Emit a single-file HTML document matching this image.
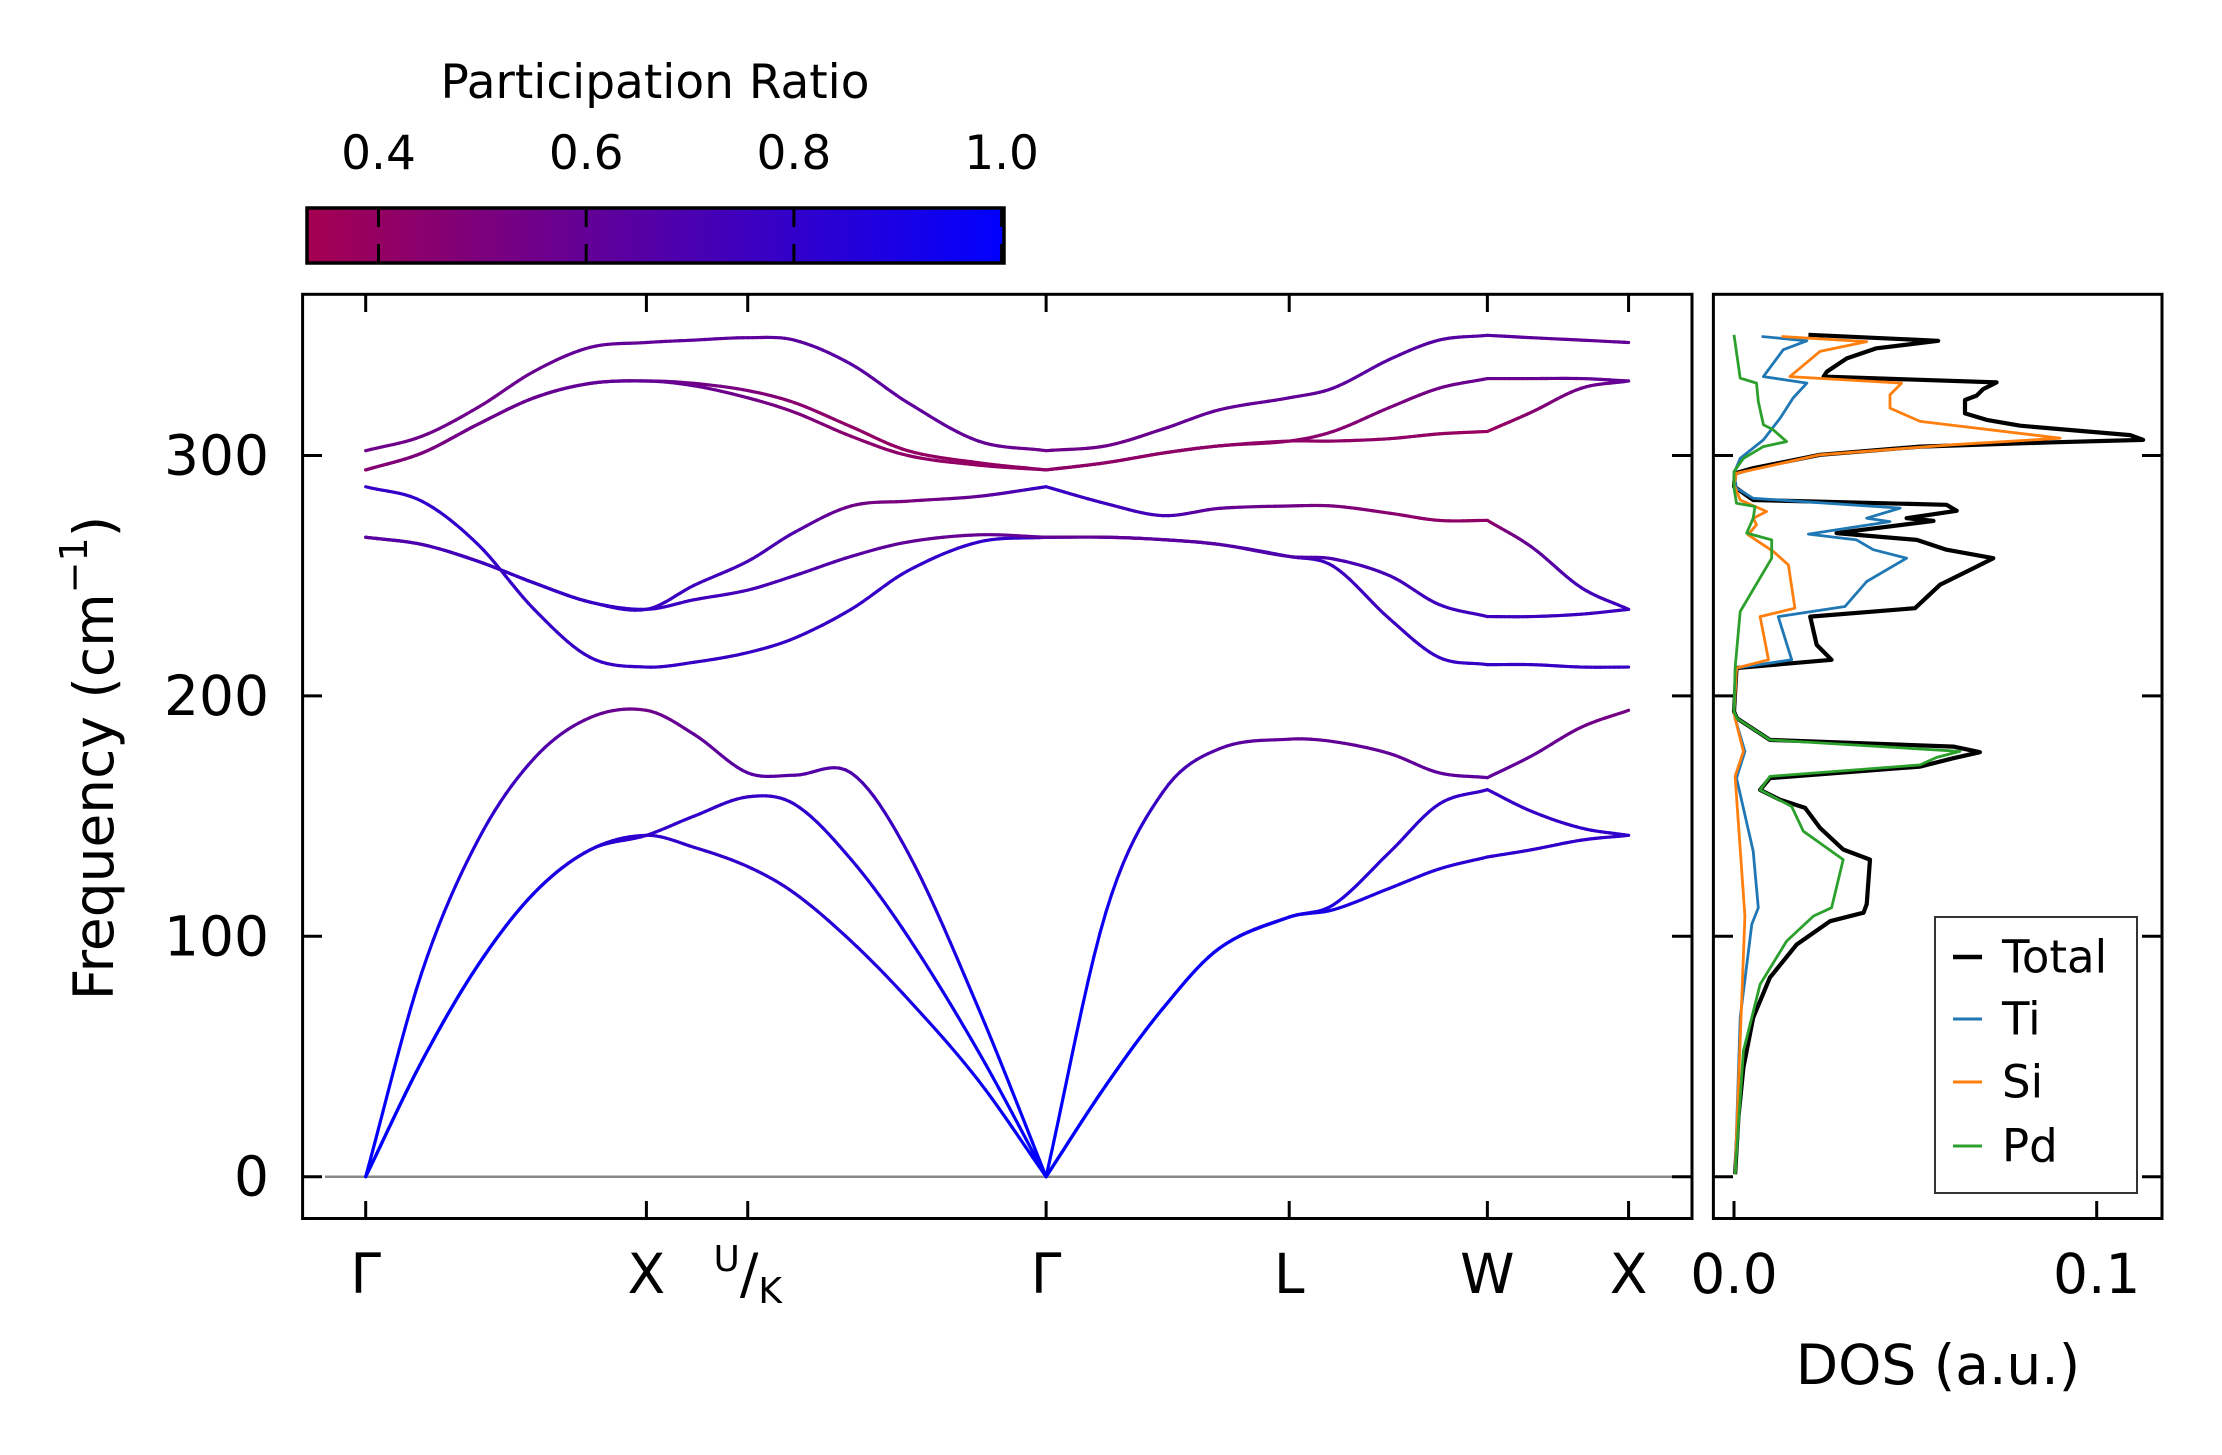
<!DOCTYPE html>
<html><head><meta charset="utf-8"><style>
html,body{margin:0;padding:0;background:#fff}
svg{display:block}
text{font-family:"DejaVu Sans","Liberation Sans",sans-serif;fill:#000}
</style></head><body>
<svg id="fig" xmlns="http://www.w3.org/2000/svg" width="2222" height="1455" viewBox="0 0 2222 1455">
<defs>
<linearGradient id="cbgrad" x1="0" x2="1" y1="0" y2="0">
<stop offset="0" stop-color="rgb(165,0,80)"/><stop offset="1" stop-color="rgb(0,0,255)"/>
</linearGradient>
</defs>
<g id="colorbar">
<text x="655" y="98" font-size="47" text-anchor="middle">Participation Ratio</text>
<rect x="307" y="208" width="697" height="55" fill="url(#cbgrad)" stroke="#000" stroke-width="3.5"/>
<g id="cbticks"></g>
</g>
<g id="band-panel">
<g id="bands"></g>
<rect x="302.6" y="294.3" width="1389.4" height="924.2" fill="none" stroke="#000" stroke-width="3"/>
<g id="bandticks"></g>
<text transform="translate(94,758) rotate(-90)" font-size="55" text-anchor="middle" dominant-baseline="central">Frequency (cm<tspan font-size="38" dy="-20">−1</tspan><tspan dy="20">)</tspan></text>
</g>
<g id="dos-panel">
<g id="dos"></g>
<rect x="1713.4" y="294.3" width="448.6" height="924.2" fill="none" stroke="#000" stroke-width="3"/>
<g id="dosticks"></g>
<text x="1938" y="1384" font-size="55" text-anchor="middle">DOS (a.u.)</text>
<g>
<rect x="1935" y="917" width="202" height="276" fill="#fff" stroke="#333" stroke-width="2"/>
<g id="legend"></g>
</g>
</g>
</svg>
<script>
// ---------- data ----------
const kLabels = ["Γ","X","U/K","Γ","L","W","X"];
const kTickPos = [0, 1, 1.361, 2.424, 3.29, 3.996, 4.499];
const kSamples = [0,0.2,0.4,0.6,0.8,1, 1.170,1.361, 1.527,1.729,1.931,2.183,2.424, 2.637,2.840,3.041,3.29, 3.446,3.648,3.824,3.996, 4.153,4.331,4.499];
const segBreaks = [0,12,20,23];
const band1 = [0,48,88,118,136,142, 137,129, 118,98,74,40,0, 38,70,95,108, 111,120,128,133, 136,140,142];
const band2 = [0,48,88,118,136,142, 150,158, 155,132,100,52,0, 38,70,95,108, 113,135,155,161, 152,145,142];
const band3 = [0,85,140,174,191,194, 184,168, 167,168,135,70,0, 110,160,178,182, 181,176,168,166, 175,187,194];
const band4 = [287,281,263,236,216,212, 214,218, 224,236,252,264,266, 266,265,263,258, 254,232,216,213, 213,212,212];
const band5 = [266,263,256,247,239,236, 240,244, 250,258,264,267,266, 266,265,263,258, 257,250,238,233, 233,234,236];
const band6 = [266,263,256,247,239,236, 246,256, 268,279,281,283,287, 280,275,278,279, 279,276,273,273, 262,245,236];
const band7 = [294,301,313,324,330,331, 329,324, 318,308,300,296,294, 297,301,304,306, 306,307,309,310, 318,328,331];
const band8 = [294,301,313,324,330,331, 330,327, 322,312,302,297,294, 297,301,304,306, 310,320,328,332, 332,332,331];
const band9 = [302,308,320,335,345,347, 348,349, 348,338,322,306,302, 304,311,319,324, 328,340,348,350, 349,348,347];
const pr1 = [1,1,.98,.92,.85,.8, .8,.8, .82,.86,.9,.96,1, 1,.98,.95,.92, .9,.87,.85,.82, .8,.8,.8];
const pr2 = [1,1,.98,.92,.85,.8, .8,.78, .8,.85,.9,.96,1, 1,.98,.95,.92, .88,.82,.8,.78, .78,.8,.8];
const pr3 = [1,.95,.85,.7,.6,.55, .6,.65, .65,.68,.8,.95,1, .95,.75,.65,.6, .6,.6,.62,.62, .6,.55,.52];
const pr4 = [.78,.8,.8,.78,.78,.78, .78,.78, .78,.78,.8,.8,.8, .8,.78,.78,.75, .75,.75,.78,.78, .78,.78,.78];
const pr5 = [.62,.7,.75,.78,.78,.78, .75,.72, .7,.65,.6,.58,.6, .6,.62,.65,.68, .7,.72,.75,.75, .75,.76,.76];
const pr6 = [.62,.7,.75,.78,.78,.78, .75,.72, .68,.55,.5,.6,.78, .75,.72,.6,.55, .5,.45,.42,.42, .6,.72,.76];
const pr7 = [.45,.5,.55,.58,.6,.6, .58,.55, .5,.45,.42,.4,.42, .42,.42,.42,.42, .42,.42,.4,.38, .45,.55,.6];
const pr8 = [.45,.5,.55,.58,.6,.6, .55,.5, .45,.42,.4,.4,.42, .42,.42,.42,.42, .45,.5,.55,.58, .58,.6,.6];
const pr9 = [.55,.55,.55,.58,.6,.6, .62,.62, .63,.65,.62,.6,.55, .55,.58,.6,.6, .62,.65,.65,.65, .62,.6,.6];
const freqTicks = [0,100,200,300];
const cbTicks = [0.4,0.6,0.8,1.0];
const dosTicks = [0.0,0.1];
const dosTickLabels = ["0.0","0.1"];

const totalF = [350.2,347.7,344.6,340.4,334.9,332.8,330.4,327.6,324.9,323.1,317.5,314.8,312.4,310.6,308.5,306.5,305.5,303.7,300.3,294.7,292.6,287.1,281.5,279.5,277.0,273.9,272.8,267.7,264.9,260.8,257.3,253.1,246.2,236.5,233.0,221.2,215.0,211.6,193.5,190.7,181.7,178.9,176.6,174.1,170.6,165.8,160.9,156.8,153.4,145.1,136.1,131.9,113.3,109.8,106.3,96.6,82.8,66.2,45.4,24.6,1.0];
const totalV = [0.0205,0.0563,0.0393,0.0311,0.0256,0.0247,0.0724,0.0687,0.0669,0.0637,0.0637,0.0697,0.0789,0.0926,0.1092,0.1128,0.0880,0.0513,0.0237,0.0053,0.0003,0,0.0053,0.0586,0.0614,0.0476,0.055,0.0283,0.0504,0.0586,0.0715,0.066,0.0568,0.0499,0.0210,0.0228,0.0269,0.0007,0,0.0008,0.0099,0.0605,0.0678,0.0605,0.0513,0.0099,0.0072,0.0127,0.0196,0.0237,0.0301,0.0375,0.0366,0.0357,0.0265,0.0173,0.0099,0.0053,0.0026,0.0012,0.0003];
const tiF = [349.5,347.7,344.0,332.8,330.1,323.9,315.5,306.5,298.8,292.6,286.4,282.2,278.1,273.9,272.5,267.3,264.9,260.8,257.3,247.6,237.2,233.0,215.0,211.6,193.5,190.7,176.9,165.8,135.4,111.9,105.0,66.2,1.0];
const tiV = [0.0076,0.0201,0.0136,0.0081,0.0201,0.0163,0.0127,0.0081,0.0017,0,0.0007,0.0053,0.0458,0.0366,0.0430,0.0205,0.0338,0.0384,0.0476,0.0366,0.0306,0.0122,0.0159,0.0007,0,0.0003,0.0030,0.0007,0.0053,0.0067,0.0049,0.0017,0.0003];
const siF = [349.5,347.4,343.3,332.8,330.1,325.3,319.7,314.2,307.2,304.5,300.3,292.6,287.8,281.5,276.7,273.9,271.2,267.0,260.1,254.5,236.5,233.0,215.0,211.6,193.5,190.7,176.9,166.5,108.4,1.0];
const siV = [0.0131,0.0366,0.0237,0.0154,0.0462,0.0430,0.0430,0.0513,0.0899,0.0605,0.0237,0.0007,0,0.0017,0.0090,0.0053,0.0062,0.0039,0.0108,0.0150,0.0168,0.0072,0.0095,0.0007,0,0.0003,0.0026,0.0003,0.0030,0.0003];
const pdF = [350.2,332.2,330.1,322.5,312.8,310.7,305.8,303.7,298.8,293.3,286.4,280.1,278.8,273.9,267.7,264.9,257.3,235.1,211.6,193.5,190.7,181.7,176.9,174.4,171.3,166.5,160.9,154.0,143.7,131.9,111.9,108.4,98.0,80.0,52.3,1.0];
const pdV = [0,0.0017,0.0062,0.0067,0.0081,0.0108,0.0145,0.0081,0.0026,0,0,0.0007,0.0058,0.0053,0.0035,0.0104,0.0104,0.0017,0.0003,0,0.0008,0.0099,0.0623,0.0559,0.0513,0.0099,0.0072,0.0159,0.0191,0.0301,0.0269,0.0219,0.0145,0.0072,0.0026,0.0003];

// ---------- scales ----------
const NS="http://www.w3.org/2000/svg";
const yF = f => 1176.7 - f*2.404;
const xK = k => 365.7 + k*280.7;
const xD = v => 1734 + v*3627;
const xCB = p => 378.5 + (p-0.4)*1038.5;
const PRMIN = 0.331;
function prColor(p){let t=(p-PRMIN)/(1-PRMIN);t=Math.max(0,Math.min(1,t));
  return `rgb(${Math.round(165*(1-t))},0,${Math.round(80+175*t)})`;}
function mk(tag,attrs,parent){const e=document.createElementNS(NS,tag);for(const a in attrs)e.setAttribute(a,attrs[a]);parent.appendChild(e);return e;}

// colorbar ticks
const cbg=document.getElementById('cbticks');
cbTicks.forEach((p,i)=>{
  const x=xCB(p);
  const l1=mk('line',{x1:x,x2:x,y1:208,y2:227,stroke:'#000','stroke-width':3},cbg);
  
  
  const l2=mk('line',{x1:x,x2:x,y1:244,y2:263,stroke:'#000','stroke-width':3},cbg);
  
  
  const t=mk('text',{x:x,y:169,'font-size':47,'text-anchor':'middle'},cbg);
  t.textContent=p.toFixed(1);
  
  
});

// band panel ticks
const bt=document.getElementById('bandticks');
const zl=mk('line',{x1:325,x2:1692,y1:yF(0),y2:yF(0),stroke:'#888','stroke-width':2.5},document.getElementById('bands'));


freqTicks.forEach(f=>{
  const y=yF(f);
  const a=mk('line',{x1:302.6,x2:322,y1:y,y2:y,stroke:'#000','stroke-width':3},bt);
  
  
  const b=mk('line',{x1:1672,x2:1692,y1:y,y2:y,stroke:'#000','stroke-width':3},bt);
  
  
  const t=mk('text',{x:269,y:y,'font-size':55,'text-anchor':'end','dominant-baseline':'central'},bt);
  t.textContent=String(f);
  
  
  const c=mk('line',{x1:1713.4,x2:1733,y1:y,y2:y,stroke:'#000','stroke-width':3},document.getElementById('dosticks'));
  
  
  const d=mk('line',{x1:2142,x2:2162,y1:y,y2:y,stroke:'#000','stroke-width':3},document.getElementById('dosticks'));
  
  
});
kTickPos.forEach((k,i)=>{
  const x=xK(k);
  const a=mk('line',{x1:x,x2:x,y1:294.3,y2:312,stroke:'#000','stroke-width':3},bt);
  
  
  const b=mk('line',{x1:x,x2:x,y1:1201,y2:1218.5,stroke:'#000','stroke-width':3},bt);
  
  
  if(kLabels[i]==="U/K"){
    const t=mk('text',{x:x,y:1293,'font-size':55,'text-anchor':'middle'},bt);
    
    
    const u=mk('tspan',{'font-size':36,dy:-22},t);u.textContent='U';
    const s=mk('tspan',{'font-size':55,dy:22},t);s.textContent='/';
    const kk=mk('tspan',{'font-size':36,dy:10},t);kk.textContent='K';
  } else {
    const t=mk('text',{x:x,y:1293,'font-size':55,'text-anchor':'middle'},bt);
    t.textContent=kLabels[i];
    
    
  }
});
const dt=document.getElementById('dosticks');
dosTicks.forEach((v,i)=>{
  const x=xD(v);
  const a=mk('line',{x1:x,x2:x,y1:1201,y2:1218.5,stroke:'#000','stroke-width':3},dt);
  
  
  const t=mk('text',{x:x,y:1293,'font-size':55,'text-anchor':'middle'},dt);
  t.textContent=dosTickLabels[i];
  
  
});

// bands: piecewise Hermite within each path segment, coloured by PR
const bandVals=[band1,band2,band3,band4,band5,band6,band7,band8,band9];
const bandPR=[pr1,pr2,pr3,pr4,pr5,pr6,pr7,pr8,pr9];
const bg=document.getElementById('bands');
bandVals.forEach((vals,bi)=>{
  const g=mk('g',{},bg);
  
  
  const pr=bandPR[bi];
  for(let s=0;s<segBreaks.length-1;s++){
    const a=segBreaks[s], b=segBreaks[s+1];
    const tan=i=>{
      if(i>a&&i<b) return (vals[i+1]-vals[i-1])/(kSamples[i+1]-kSamples[i-1]);
      if(i===a) return (vals[a+1]-vals[a])/(kSamples[a+1]-kSamples[a]);
      return (vals[b]-vals[b-1])/(kSamples[b]-kSamples[b-1]);
    };
    for(let i=a;i<b;i++){
      const k0=kSamples[i],k1=kSamples[i+1],h=k1-k0;
      const m0=tan(i)*h,m1=tan(i+1)*h, y0=vals[i],y1=vals[i+1];
      const N=10;
      let px=xK(k0),py=yF(y0);
      for(let j=1;j<=N;j++){
        const t=j/N,t2=t*t,t3=t2*t;
        const y=(2*t3-3*t2+1)*y0+(t3-2*t2+t)*m0+(-2*t3+3*t2)*y1+(t3-t2)*m1;
        const x=xK(k0+t*h), yy=yF(y);
        const p=pr[i]+(pr[i+1]-pr[i])*(t-0.5/N);
        mk('line',{x1:px,y1:py,x2:x,y2:yy,stroke:prColor(p),'stroke-width':3.2,'stroke-linecap':'round'},g);
        px=x;py=yy;
      }
    }
  }
});

// DOS
const dosSeries=[[tiF,tiV,'#1f77b4',2.8,'dos-ti'],[siF,siV,'#ff7f0e',2.8,'dos-si'],[pdF,pdV,'#2ca02c',2.8,'dos-pd'],[totalF,totalV,'#000',4.2,'dos-total']];
const dg=document.getElementById('dos');
const order=[3,0,1,2];
order.forEach(idx=>{
  const [F,V,c,w,n]=dosSeries[idx];
  const d=F.map((f,i)=>(i?'L':'M')+xD(V[i]).toFixed(1)+','+yF(f).toFixed(1)).join(' ');
  const p=mk('path',{d:d,fill:'none',stroke:c,'stroke-width':w,'stroke-linejoin':'round'},dg);
  
  
});

// legend
const lg=document.getElementById('legend');
const legNames=['Total','Ti','Si','Pd'];
const legColors=['#000','#1f77b4','#ff7f0e','#2ca02c'];
const legY=[957,1019,1082,1146];
legNames.forEach((n,i)=>{
  const l=mk('line',{x1:1953,x2:1982,y1:legY[i],y2:legY[i],stroke:legColors[i],'stroke-width':i?3:4.5},lg);
  
  
  const t=mk('text',{x:2002,y:legY[i],'font-size':45,'dominant-baseline':'central'},lg);
  t.textContent=n;
  
  
});
</script>
</body></html>
